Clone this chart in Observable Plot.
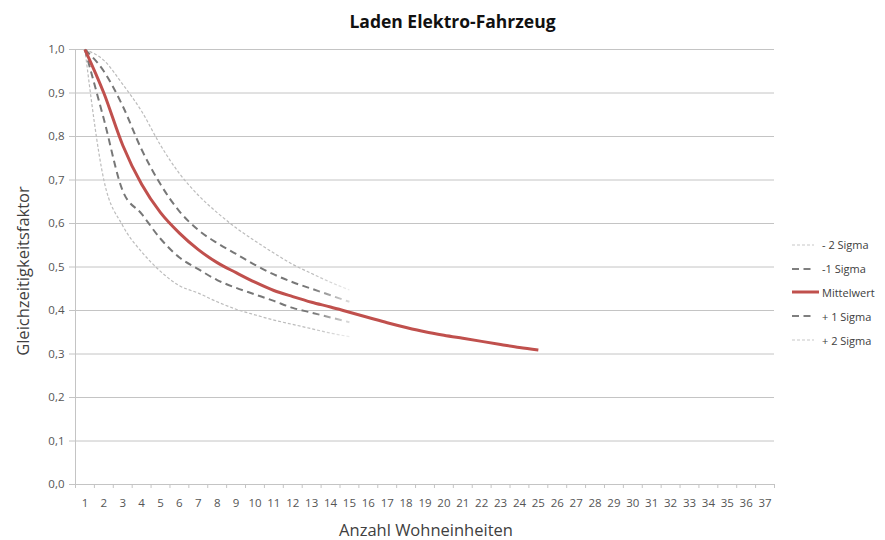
<!DOCTYPE html>
<html><head><meta charset="utf-8">
<script src="https://cdn.jsdelivr.net/npm/d3@7"></script>
<script src="https://cdn.jsdelivr.net/npm/@observablehq/plot@0.6"></script>
<style>
body{margin:0;background:#fff;font-family:"Open Sans",sans-serif}
#wrap{position:relative;width:885px;height:540px;overflow:hidden}
#chart svg{display:block}
#title{position:absolute;left:10px;top:9px;width:885px;text-align:center;font-weight:bold;font-size:17.5px;color:#111}
#ytitle{position:absolute;left:22px;top:271px;transform:translate(-50%,-50%) rotate(-90deg);white-space:nowrap;font-size:16.5px;color:#404040}
#xtitle{position:absolute;left:426px;top:522px;line-height:16px;transform:translateX(-50%);white-space:nowrap;font-size:16.5px;color:#404040}
#legend{position:absolute;left:792px;top:233px;font-size:11px;color:#404040}
.li{height:23.8px;display:flex;align-items:center}
.li svg{margin-right:2px}
</style></head><body>
<div id="wrap"><div id="chart"></div><div id="title">Laden Elektro-Fahrzeug</div>
<div id="ytitle">Gleichzeitigkeitsfaktor</div><div id="xtitle">Anzahl Wohneinheiten</div><div id="legend"></div></div>
<script>
const categories = [1,2,3,4,5,6,7,8,9,10,11,12,13,14,15,16,17,18,19,20,21,22,23,24,25,26,27,28,29,30,31,32,33,34,35,36,37];
const yTicks = [0,0.1,0.2,0.3,0.4,0.5,0.6,0.7,0.8,0.9,1.0];
const nMittel = [1,2,3,4,5,6,7,8,9,10,11,12,13,14,15,16,17,18,19,20,21,22,23,24,25];
const nSigma = [1,2,3,4,5,6,7,8,9,10,11,12,13,14,15];
const mittelwert = [1.0,0.90,0.78,0.69,0.625,0.578,0.54,0.51,0.487,0.465,0.446,0.432,0.419,0.408,0.396,0.384,0.372,0.361,0.351,0.343,0.336,0.329,0.322,0.315,0.309];
const minus2Sigma = [1.0,0.975,0.92,0.858,0.78,0.715,0.665,0.625,0.59,0.56,0.532,0.506,0.485,0.465,0.447];
const minus1Sigma = [1.0,0.95,0.87,0.77,0.69,0.628,0.585,0.555,0.53,0.505,0.483,0.465,0.45,0.435,0.42];
const plus1Sigma = [1.0,0.84,0.675,0.622,0.565,0.522,0.495,0.47,0.452,0.437,0.422,0.406,0.395,0.384,0.373];
const plus2Sigma = [1.0,0.70,0.595,0.535,0.49,0.457,0.44,0.42,0.403,0.39,0.378,0.368,0.358,0.348,0.34];
const seriesNames = ["- 2 Sigma","-1 Sigma","Mittelwert","+ 1 Sigma","+ 2 Sigma"];

const rows = (xs, ys) => xs.map((n, i) => ({n, v: ys[i]}));
const styles = {
  "- 2 Sigma": {stroke: "url(#fadeLight)", strokeWidth: 1.2, strokeDasharray: "3,2", legendStroke: "#c8c8c8"},
  "-1 Sigma": {stroke: "url(#fadeDark)", strokeWidth: 2, strokeDasharray: "7,4.5", legendStroke: "#7f7f7f"},
  "Mittelwert": {stroke: "#C0504D", strokeWidth: 3, legendStroke: "#C0504D"},
  "+ 1 Sigma": {stroke: "url(#fadeDark)", strokeWidth: 2, strokeDasharray: "7,4.5", legendStroke: "#7f7f7f"},
  "+ 2 Sigma": {stroke: "url(#fadeLight)", strokeWidth: 1.2, strokeDasharray: "3,2", legendStroke: "#c8c8c8"}
};
const seriesData = {
  "- 2 Sigma": rows(nSigma, minus2Sigma),
  "-1 Sigma": rows(nSigma, minus1Sigma),
  "Mittelwert": rows(nMittel, mittelwert),
  "+ 1 Sigma": rows(nSigma, plus1Sigma),
  "+ 2 Sigma": rows(nSigma, plus2Sigma)
};

const defs = () => {
  const d = d3.create("svg:defs");
  const mk = (id, c1, c2) => {
    const g = d.append("linearGradient").attr("id", id).attr("x1", 0).attr("x2", 1).attr("y1", 0).attr("y2", 0);
    g.append("stop").attr("offset", 0).attr("stop-color", c1);
    g.append("stop").attr("offset", 0.86).attr("stop-color", c1);
    g.append("stop").attr("offset", 1).attr("stop-color", c2);
  };
  mk("fadeDark", "#777777", "#dcdcdc");
  mk("fadeLight", "#bcbcbc", "#ededed");
  return d.node();
};

const boundaries = categories.map(c => c - 0.5).concat([categories[categories.length - 1] + 0.5]);
const fmt = d => d.toFixed(1).replace(".", ",");

const lineMarks = ["- 2 Sigma","+ 2 Sigma","-1 Sigma","+ 1 Sigma","Mittelwert"].map(name => {
  const s = styles[name];
  return Plot.line(seriesData[name], {x: "n", y: "v", curve: "monotone-x", stroke: s.stroke,
    strokeWidth: s.strokeWidth, strokeDasharray: s.strokeDasharray, strokeLinecap: "butt"});
});

const plot = Plot.plot({
  width: 885, height: 540,
  marginTop: 49, marginBottom: 56, marginLeft: 75, marginRight: 111,
  style: {fontFamily: "'Open Sans', sans-serif", fontSize: "11.5px", background: "transparent"},
  x: {type: "linear", domain: [boundaries[0], boundaries[boundaries.length - 1]]},
  y: {domain: [0, 1]},
  marks: [
    defs,
    Plot.ruleY(yTicks, {stroke: "#c4c4c4", strokeWidth: 1}),
    Plot.ruleX([boundaries[0]], {stroke: "#c4c4c4"}),
    Plot.axisY({ticks: yTicks, tickSize: 6, tickPadding: 5, tickFormat: fmt, stroke: "#c4c4c4", fill: "#555555", label: null}),
    Plot.axisX({ticks: boundaries, tickSize: 4, tickFormat: () => "", stroke: "#c4c4c4", label: null}),
    Plot.axisX({ticks: categories, tickSize: 0, tickPadding: 14, tickFormat: d => String(d), fill: "#555555", label: null}),
    ...lineMarks
  ]
});
document.getElementById("chart").appendChild(plot);

const legend = d3.select("#legend");
seriesNames.forEach(name => {
  const s = styles[name];
  const row = legend.append("div").attr("class", "li");
  const w = name === "Mittelwert" ? 27 : 22;
  const sv = row.append("svg").attr("width", 28).attr("height", 6);
  sv.append("line").attr("x1", 0).attr("x2", w).attr("y1", 3).attr("y2", 3)
    .attr("stroke", s.legendStroke).attr("stroke-width", s.strokeWidth)
    .attr("stroke-dasharray", s.strokeDasharray || null);
  row.append("span").text(name);
});
</script>
</body></html>
